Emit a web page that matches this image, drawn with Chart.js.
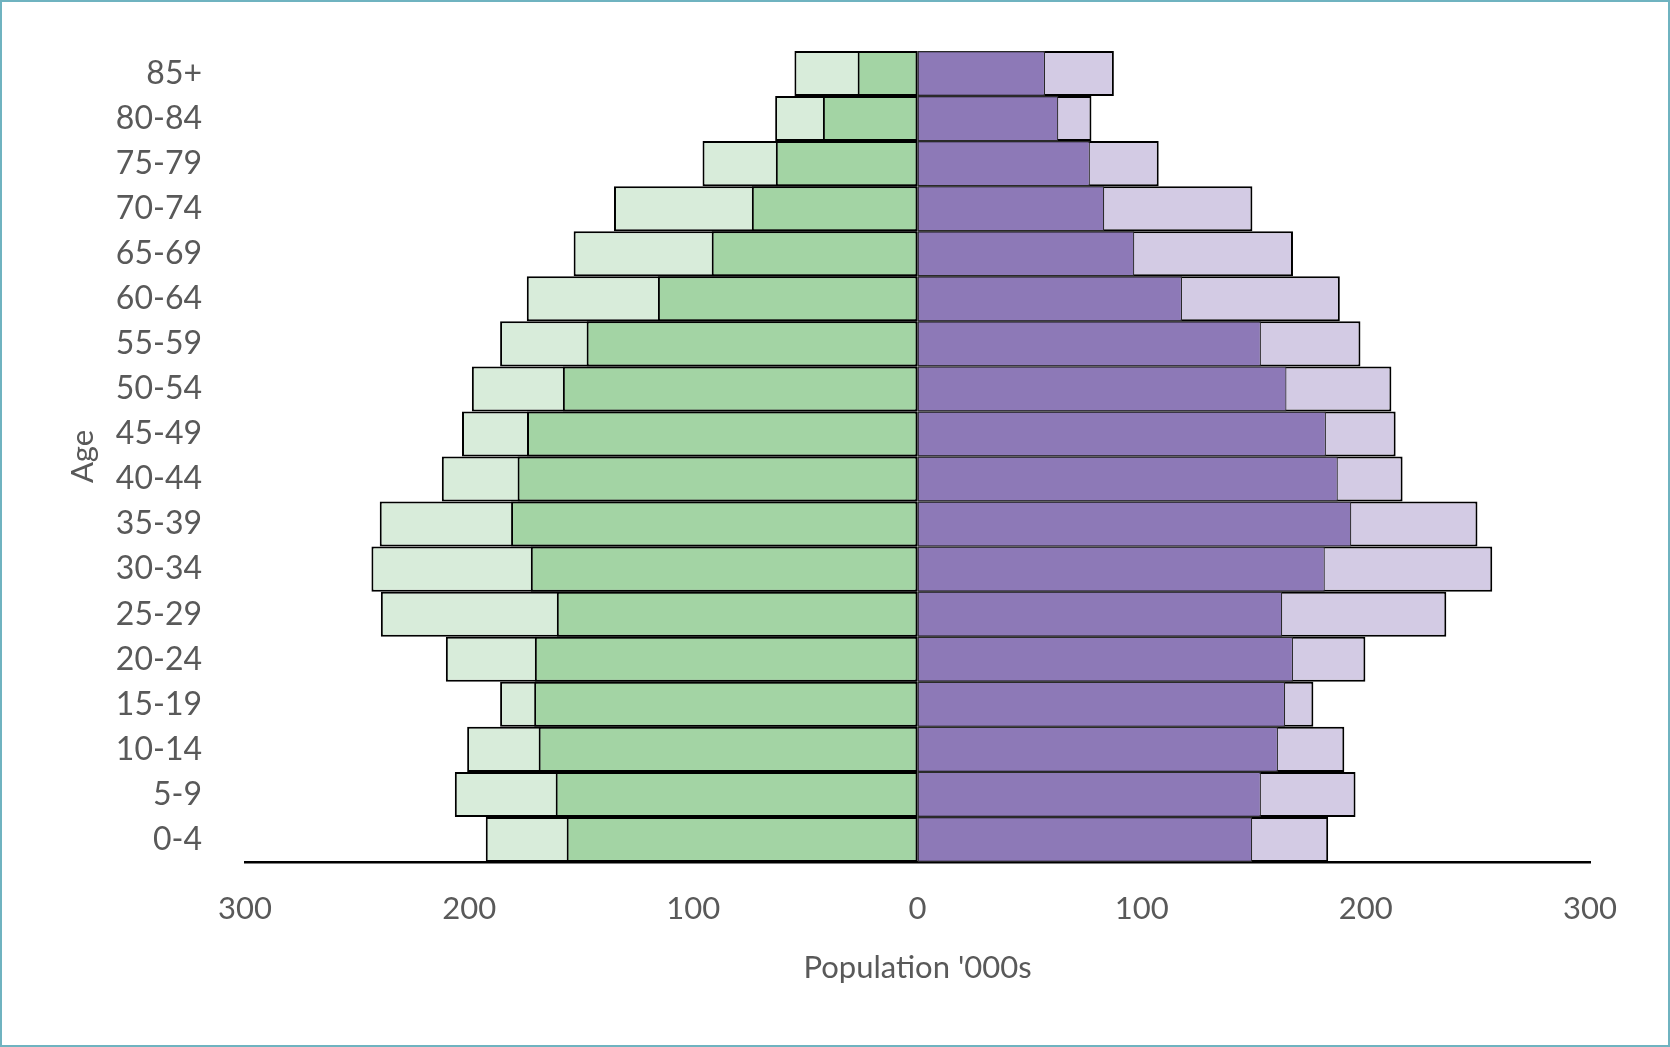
<!DOCTYPE html>
<html>
<head>
<meta charset="utf-8">
<script src="https://cdn.jsdelivr.net/npm/chart.js@4.4.1/dist/chart.umd.min.js"></script>
<style>
  html, body { margin: 0; padding: 0; background: #ffffff; }
  #wrap { position: relative; width: 1670px; height: 1047px; }
  #c { position: absolute; left: 0; top: 0; }
  #frame { position: absolute; left: 0; top: 0; width: 1670px; height: 1047px; box-sizing: border-box; border: 2px solid #6FB3C0; pointer-events: none; }
</style>
</head>
<body>
<div id="wrap">
  <canvas id="c" width="1670" height="1047"></canvas>
  <div id="frame"></div>
</div>
<script>
// Age groups (top to bottom)
const ageGroups = ['85+','80-84','75-79','70-74','65-69','60-64','55-59','50-54','45-49','40-44','35-39','30-34','25-29','20-24','15-19','10-14','5-9','0-4'];

// Left side (green), population '000s
const greenInner = [26.7, 42.2, 63.2, 73.9, 91.8, 115.8, 147.6, 158.2, 174.2, 178.4, 181.3, 172.5, 160.9, 170.7, 171.0, 169.0, 161.4, 156.5];
const greenOuter = [54.9, 63.5, 95.9, 135.4, 153.4, 174.3, 186.2, 198.8, 203.2, 212.2, 239.9, 243.6, 239.4, 210.4, 186.2, 200.9, 206.4, 192.6];

// Right side (purple), population '000s
const purpleInner = [56.9, 62.8, 76.9, 83.3, 96.7, 118.0, 153.2, 164.6, 182.2, 187.5, 193.5, 181.7, 162.7, 167.5, 164.0, 160.8, 153.2, 149.3];
const purpleOuter = [87.6, 77.6, 107.6, 149.4, 167.5, 188.4, 197.6, 211.4, 213.3, 216.4, 249.8, 256.4, 235.9, 199.8, 176.6, 190.4, 195.4, 183.2];

// Axis ticks
const xMin = -300, xMax = 300, xStep = 100;

const neg = arr => arr.map(v => -v);
const FONT = 'Lato';
const TEXT = '#595959';

new Chart(document.getElementById('c'), {
  type: 'bar',
  data: {
    labels: ageGroups,
    datasets: [
      { label: 'Green inner', data: neg(greenInner), backgroundColor: '#A3D4A4', borderColor: '#000000', borderWidth: 2 },
      { label: 'Purple inner', data: purpleInner, backgroundColor: '#8D79B7', borderColor: '#2A2A2A', borderWidth: 1.2 },
      { label: 'Green outer', data: neg(greenOuter), backgroundColor: '#D8ECDA', borderColor: '#000000', borderWidth: 2 },
      { label: 'Purple outer', data: purpleOuter, backgroundColor: '#D3CBE4', borderColor: '#000000', borderWidth: 2 }
    ]
  },
  options: {
    indexAxis: 'y',
    responsive: false,
    animation: false,
    devicePixelRatio: 1,
    datasets: {
      bar: { grouped: false, barPercentage: 1.0, categoryPercentage: 1.0, borderSkipped: false, inflateAmount: 0 }
    },
    layout: { padding: { left: 0, top: 51, right: 80, bottom: 58 } },
    plugins: { legend: { display: false }, tooltip: { enabled: false } },
    scales: {
      x: {
        min: xMin, max: xMax,
        grid: { display: false, drawTicks: false },
        border: { display: true, color: '#000000', width: 2.5 },
        ticks: {
          stepSize: xStep,
          padding: 28,
          color: TEXT,
          font: { family: FONT, size: 31 },
          callback: v => Math.abs(v)
        },
        title: { display: true, text: "Population '000s", color: TEXT, font: { family: FONT, size: 31 }, padding: { top: 0, bottom: 2 } },
        afterFit: s => { s.height = 127; }
      },
      y: {
        grid: { display: false, drawTicks: false },
        border: { display: false },
        ticks: { padding: 43, color: TEXT, font: { family: FONT, size: 32 } },
        title: { display: true, text: 'Age', color: TEXT, font: { family: FONT, size: 31 }, padding: { top: 64, bottom: 0 } },
        afterFit: s => { s.width = 245; s.paddingTop = 0; s.paddingBottom = 0; }
      }
    }
  }
});
</script>
</body>
</html>
